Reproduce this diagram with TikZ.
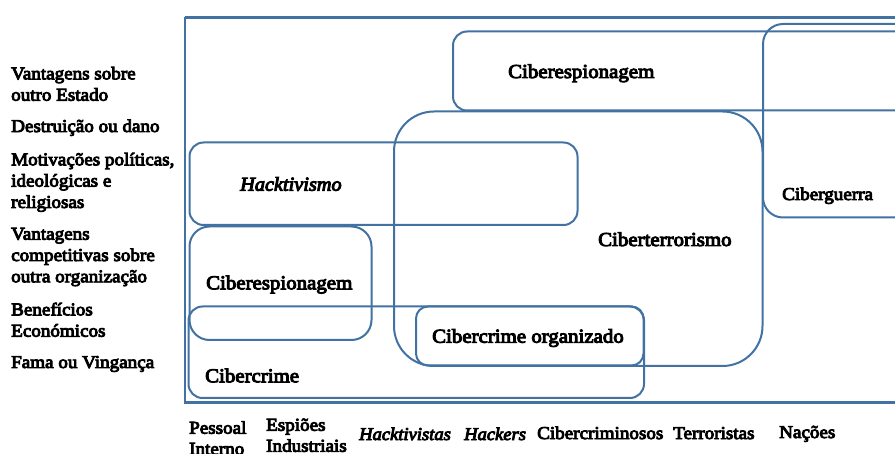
\documentclass[tikz,border=0pt]{standalone}
\usepackage{fontspec}
\setmainfont{Liberation Serif}
\newfontfamily\tnrb[FakeBold=5,FakeStretch=1.06,ItalicFeatures={FakeBold=5,FakeStretch=1.03}]{Liberation Serif}
\definecolor{boxblue}{RGB}{66,113,163}
\begin{document}
\begin{tikzpicture}[x=1pt,y=-1pt,
  box/.style={draw=boxblue,line width=2pt},
  outerframe/.style={draw=boxblue,line width=2.8pt},
  side/.style={font=\fontsize{18}{21.3}\selectfont\tnrb,align=left,inner sep=0pt},
  actor/.style={font=\fontsize{18}{21}\selectfont\tnrb,align=left,inner sep=0pt,anchor=base west},
  lab/.style={font=\fontsize{19.7}{23}\selectfont\tnrb,inner sep=0pt,anchor=base west}]
\useasboundingbox (0,0) rectangle (895,454);
\begin{scope}
\clip (0,0) rectangle (895,454);
% outer frame
\draw[outerframe] (185,17.5) -- (930,17.5) (185,17.5) -- (185,402.5) -- (930,402.5);
% regions
\draw[box,rounded corners=14pt] (453,31.5) rectangle (940,110.5);
\draw[box,rounded corners=20pt] (763,24) rectangle (940,217.5);
\draw[box,rounded corners=40pt] (394,111.5) rectangle (762.5,366);
\draw[box,rounded corners=14pt] (189.5,142.5) rectangle (577.5,225);
\draw[box,rounded corners=20pt] (189.5,226.5) rectangle (371.5,340);
\draw[box,rounded corners=14pt] (188.5,306.5) rectangle (644,398);
\draw[box,rounded corners=12pt] (416,306.5) rectangle (643.5,365.5);
\end{scope}
% region labels
\node[lab] (lcesp1) at (508,78) {Ciberespionagem};
\node[lab] (lhack) at (240,190.7) {\itshape Hacktivismo};
\node[lab] (lterr) at (598,246) {Ciberterrorismo};
\node[lab,font=\fontsize{18}{21}\selectfont\tnrb] (lguer) at (782,200) {Ciberguerra};
\node[lab] (lcesp2) at (206,289.3) {Ciberespionagem};
\node[lab] (lorg) at (432,342.7) {Cibercrime organizado};
\node[lab] (lcrime) at (205,382.3) {Cibercrime};
% motivations
\node[side,anchor=north west] (m1) at (11,66.7) {Vantagens sobre\\outro Estado};
\node[side,anchor=base west] (m2) at (11,132) {Destruição ou dano};
\node[side,anchor=north west] (m3) at (11,152.6) {Motivações políticas,\\ideológicas e\\religiosas};
\node[side,anchor=north west] (m4) at (11,227.7) {Vantagens\\competitivas sobre\\outra organização};
\node[side,anchor=north west] (m5) at (11,302.5) {Benefícios\\Económicos};
\node[side,anchor=base west] (m6) at (11,368) {Fama ou Vingança};
% actors
\node[actor,anchor=north west] (a1) at (189,421) {Pessoal\\Interno};
\node[actor,anchor=north west] (a2) at (266,418.4) {Espiões\\Industriais};
\node[actor] (a3) at (359,440) {\itshape Hacktivistas};
\node[actor] (a4) at (464,440) {\itshape Hackers};
\node[actor] (a5) at (537,439) {Cibercriminosos};
\node[actor] (a6) at (673,439) {Terroristas};
\node[actor] (a7) at (779,438) {Nações};
\end{tikzpicture}
\end{document}
